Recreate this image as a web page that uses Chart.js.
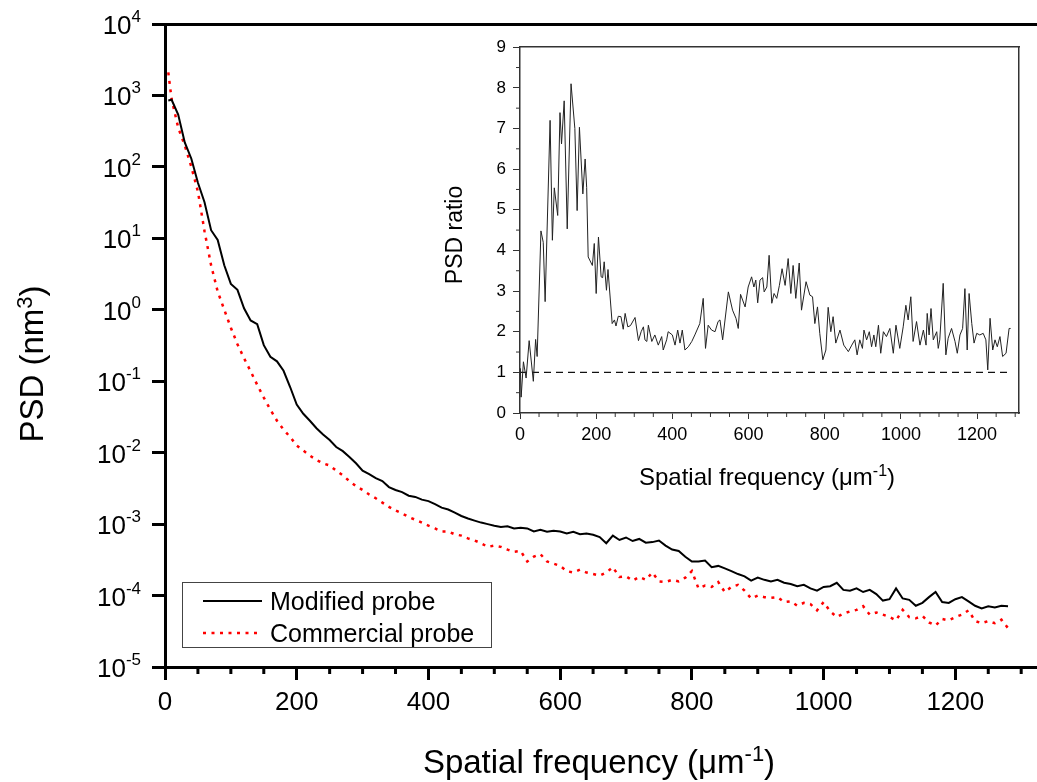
<!DOCTYPE html>
<html>
<head>
<meta charset="utf-8">
<script src="https://cdn.jsdelivr.net/npm/chart.js@4.4.0/dist/chart.umd.min.js"></script>
<style>
    html, body { margin: 0; padding: 0; background: #fff; overflow: hidden; }
    #wrap { position: relative; width: 1037px; height: 782px; }
    #main { position: absolute; left: 0; top: 0; }
    #inset { position: absolute; left: 430px; top: 30px; }
</style>
</head>
<body>
<div id="wrap">
    <canvas id="main" width="1037" height="782"></canvas>
    <canvas id="inset" width="600" height="475"></canvas>
</div>
<script>
// spatial frequency (um^-1) for the two PSD curves
var freq = [5,
    10, 20, 30, 40, 50, 60, 70, 80, 90,
    100, 110, 120, 130, 140, 150, 160, 170, 180, 190,
    200, 210, 220, 230, 240, 250, 260, 270, 280, 290,
    300, 310, 320, 330, 340, 350, 360, 370, 380, 390,
    400, 410, 420, 430, 440, 450, 460, 470, 480, 490,
    500, 510, 520, 530, 540, 550, 560, 570, 580, 590,
    600, 610, 620, 630, 640, 650, 660, 670, 680, 690,
    700, 710, 720, 730, 740, 750, 760, 770, 780, 790,
    800, 810, 820, 830, 840, 850, 860, 870, 880, 890,
    900, 910, 920, 930, 940, 950, 960, 970, 980, 990,
    1000, 1010, 1020, 1030, 1040, 1050, 1060, 1070, 1080, 1090,
    1100, 1110, 1120, 1130, 1140, 1150, 1160, 1170, 1180, 1190,
    1200, 1210, 1220, 1230, 1240, 1250, 1260, 1270, 1280];

// PSD (nm^3), modified probe
var modified = [850,
    870, 540, 220, 130, 60, 32, 13, 9.5, 4.2,
    2.3, 1.9, 1.05, 0.71, 0.63, 0.32, 0.22, 0.19, 0.14, 0.083,
    0.047, 0.035, 0.028, 0.022, 0.018, 0.015, 0.012, 0.0105, 0.0087, 0.0071,
    0.0056, 0.0050, 0.0044, 0.0040, 0.0033, 0.0030, 0.0028, 0.0025, 0.0024, 0.0022,
    0.0021, 0.0019, 0.0017, 0.0016, 0.00145, 0.0013, 0.0012, 0.00112, 0.00105, 0.0010,
    9.5e-4, 9.1e-4, 9.3e-4, 8.7e-4, 8.9e-4, 8.7e-4, 7.9e-4, 8.3e-4, 7.8e-4, 8.1e-4,
    7.9e-4, 7.4e-4, 7.8e-4, 7.2e-4, 7.4e-4, 7.1e-4, 6.6e-4, 5.4e-4, 6.9e-4, 6.0e-4,
    6.5e-4, 5.8e-4, 6.2e-4, 5.5e-4, 5.6e-4, 5.9e-4, 5.0e-4, 4.4e-4, 4.2e-4, 3.5e-4,
    3.0e-4, 3.0e-4, 3.1e-4, 2.5e-4, 2.6e-4, 2.4e-4, 2.2e-4, 2.0e-4, 1.86e-4, 1.62e-4,
    1.78e-4, 1.66e-4, 1.58e-4, 1.66e-4, 1.51e-4, 1.45e-4, 1.35e-4, 1.41e-4, 1.26e-4, 1.17e-4,
    1.32e-4, 1.35e-4, 1.51e-4, 1.20e-4, 1.17e-4, 1.26e-4, 1.12e-4, 1.20e-4, 1.05e-4, 8.5e-5,
    8.9e-5, 1.26e-4, 9.1e-5, 8.7e-5, 7.2e-5, 7.9e-5, 9.5e-5, 1.12e-4, 8.1e-5, 7.9e-5,
    8.9e-5, 9.5e-5, 8.3e-5, 7.2e-5, 6.6e-5, 7.1e-5, 6.8e-5, 7.2e-5, 7.1e-5];

// PSD (nm^3), commercial probe
var commercial = [2100,
    890, 355, 200, 100, 45, 12.6, 4.2, 1.8, 1.0,
    0.56, 0.33, 0.21, 0.138, 0.089, 0.059, 0.040, 0.028, 0.021, 0.0166,
    0.0126, 0.0107, 0.0091, 0.0079, 0.0071, 0.0066, 0.0056, 0.0048, 0.0040, 0.0034,
    0.0030, 0.0026, 0.0023, 0.0020, 0.00174, 0.00155, 0.00141, 0.00126, 0.00115, 0.00105,
    9.5e-4, 8.7e-4, 7.9e-4, 7.9e-4, 7.2e-4, 6.9e-4, 6.3e-4, 5.9e-4, 5.4e-4, 4.8e-4,
    5.0e-4, 4.8e-4, 4.4e-4, 4.1e-4, 4.2e-4, 3.0e-4, 3.5e-4, 3.8e-4, 3.0e-4, 2.8e-4,
    2.6e-4, 2.2e-4, 2.1e-4, 2.3e-4, 2.1e-4, 2.0e-4, 1.9e-4, 2.1e-4, 2.5e-4, 1.82e-4,
    1.86e-4, 1.62e-4, 1.82e-4, 1.66e-4, 2.1e-4, 1.58e-4, 1.55e-4, 1.66e-4, 1.58e-4, 1.78e-4,
    2.2e-4, 1.26e-4, 1.38e-4, 1.32e-4, 1.55e-4, 1.12e-4, 1.32e-4, 1.41e-4, 1.17e-4, 9.1e-5,
    1.0e-4, 9.5e-5, 9.3e-5, 9.5e-5, 8.1e-5, 8.3e-5, 7.2e-5, 7.9e-5, 7.6e-5, 6.2e-5,
    8.1e-5, 6.0e-5, 5.0e-5, 5.6e-5, 6.0e-5, 6.3e-5, 7.1e-5, 5.4e-5, 5.8e-5, 5.4e-5,
    5.0e-5, 4.5e-5, 6.3e-5, 5.0e-5, 4.8e-5, 5.2e-5, 4.2e-5, 3.8e-5, 4.7e-5, 4.5e-5,
    5.0e-5, 5.4e-5, 6.2e-5, 4.4e-5, 4.1e-5, 4.4e-5, 4.1e-5, 4.6e-5, 3.5e-5];

// inset: PSD ratio
var ratioFreq = [1, 3, 9, 16, 24, 35, 41, 45, 55, 61,
    66, 79, 85, 90, 99, 105, 109, 116, 124, 134,
    144, 150, 156, 165, 171, 175, 179, 190, 195, 200,
    206, 213, 217, 221, 227, 231, 242, 248, 252, 258,
    265, 271, 276, 283, 290, 302, 311, 318, 324, 328,
    333, 337, 346, 354, 363, 372, 376, 385, 389, 400,
    407, 414, 420, 426, 433, 442, 451, 459, 472, 481,
    487, 494, 503, 512, 520, 525, 532, 547, 558, 567,
    573, 579, 591, 599, 608, 614, 619, 624, 630, 637,
    641, 648, 654, 661, 667, 674, 681, 688, 696, 704,
    711, 717, 724, 733, 739, 751, 761, 768, 774, 781,
    787, 795, 803, 809, 816, 822, 829, 840, 850, 862,
    871, 879, 885, 892, 899, 903, 910, 917, 923, 929,
    934, 941, 947, 954, 962, 971, 980, 987, 997, 1006,
    1013, 1019, 1026, 1032, 1041, 1050, 1059, 1066, 1069, 1074,
    1079, 1085, 1094, 1098, 1102, 1111, 1118, 1124, 1133, 1142,
    1148, 1155, 1162, 1168, 1174, 1179, 1186, 1192, 1199, 1207,
    1216, 1223, 1228, 1234, 1241, 1247, 1253, 1260, 1267, 1276,
    1284, 1288];
var ratioValue = [1.1, 0.39, 1.26, 0.86, 1.78, 0.78, 1.81, 1.39, 4.48, 4.2,
    2.74, 7.2, 4.25, 5.54, 4.86, 7.39, 6.62, 7.68, 4.53, 8.1,
    7.0, 4.98, 7.03, 5.39, 6.25, 5.55, 3.84, 3.63, 4.17, 2.94,
    4.33, 3.35, 3.33, 3.72, 3.02, 3.53, 2.2, 2.29, 2.14, 2.38,
    2.37, 2.06, 2.45, 2.12, 2.15, 2.35, 1.78, 2.0, 2.12, 1.8,
    1.76, 2.16, 1.76, 1.92, 1.67, 1.88, 1.55, 1.8, 2.0, 1.92,
    1.67, 2.04, 1.72, 2.04, 1.55, 1.63, 1.76, 1.92, 2.2, 2.82,
    1.59, 2.16, 2.04, 2.0, 2.25, 2.29, 1.8, 2.98, 2.53, 2.33,
    2.08, 2.92, 2.61, 3.1, 3.35, 3.1, 3.27, 2.71, 3.27, 3.33,
    2.98, 3.1, 3.88, 2.7, 2.94, 2.82, 3.14, 3.55, 3.14, 3.8,
    2.94, 3.63, 2.82, 3.69, 2.53, 3.23, 2.9, 2.86, 2.2, 2.61,
    1.96, 1.31, 1.55, 2.6, 2.0, 2.37, 1.72, 2.04, 1.67, 1.51,
    1.67, 1.8, 1.43, 1.8, 1.59, 2.04, 1.8, 2.0, 1.63, 1.92,
    1.63, 2.16, 1.47, 2.0, 1.88, 2.08, 1.47, 2.16, 1.59, 2.12,
    2.65, 2.29, 2.86, 1.76, 2.25, 1.67, 2.04, 1.67, 2.45, 1.92,
    2.57, 1.8, 2.0, 1.59, 1.8, 3.19, 1.43, 1.84, 2.08, 1.76,
    1.47, 1.92, 2.08, 3.06, 1.55, 2.94, 2.2, 1.72, 1.96, 1.92,
    1.96, 1.8, 1.06, 2.33, 1.55, 1.8, 1.63, 1.88, 1.39, 1.47,
    2.08, 2.08];

// dashed reference line at ratio = 1
var unityFreq = [0, 1290];
var unityValue = [1, 1];

var yDecades = [1e-5, 1e-4, 1e-3, 1e-2, 1e-1, 1, 1e1, 1e2, 1e3, 1e4];

var FONT = '"Liberation Sans", Arial, Helvetica, sans-serif';

function toPoints(xs, ys) {
    return xs.map(function(x, i) { return { x: x, y: ys[i] }; });
}

function plainLabel(v) { return String(v); }

// text with a superscript part
function drawParts(ctx, parts, cx, baseY) {
    var total = 0;
    parts.forEach(function(p) {
        ctx.font = p.size + 'px ' + FONT;
        p.w = ctx.measureText(p.t).width;
        total += p.w;
    });
    var x = cx - total / 2;
    ctx.textAlign = 'left';
    ctx.textBaseline = 'alphabetic';
    parts.forEach(function(p) {
        ctx.font = p.size + 'px ' + FONT;
        ctx.fillText(p.t, x, baseY - (p.rise || 0));
        x += p.w;
    });
}

// short minor tick marks between the major ones
function minorTicks(ctx, scale, step, major, len, width, color) {
    ctx.save();
    ctx.setLineDash([]);
    ctx.strokeStyle = color;
    ctx.lineWidth = width;
    ctx.beginPath();
    var n = Math.round((scale.max - scale.min) / step);
    for (var k = 0; k <= n; k++) {
        var v = scale.min + k * step;
        if (v > scale.max) break;
        var r = v / major;
        if (Math.abs(r - Math.round(r)) < 1e-6) continue;
        var p = scale.getPixelForValue(v);
        if (scale.isHorizontal()) {
            ctx.moveTo(p, scale.top);
            ctx.lineTo(p, scale.top + len);
        } else {
            ctx.moveTo(scale.right - len, p);
            ctx.lineTo(scale.right, p);
        }
    }
    ctx.stroke();
    ctx.restore();
}

var mainDeco = {
    id: 'mainDeco',
    afterDraw: function(chart) {
        var ctx = chart.ctx;
        var ys = chart.scales.y;
        ctx.save();
        ctx.fillStyle = '#000';

        // y tick labels 10^n
        ys.ticks.forEach(function(t) {
            var y = ys.getPixelForValue(t.value);
            var e = String(Math.round(Math.log10(t.value)));
            var R = 141;
            ctx.font = '17px ' + FONT;
            ctx.textAlign = 'left';
            ctx.textBaseline = 'alphabetic';
            var ew = ctx.measureText(e).width;
            ctx.fillText(e, R - ew, y - 2);
            ctx.font = '26px ' + FONT;
            ctx.textAlign = 'right';
            ctx.fillText('10', R - ew, y + 10);
        });

        minorTicks(ctx, chart.scales.x, 50, 200, 7, 3, '#000');

        // axis titles
        drawParts(ctx, [
            { t: 'Spatial frequency (\u03bcm', size: 33 },
            { t: '-1', size: 22, rise: 12 },
            { t: ')', size: 33 }
        ], 599, 773);
        ctx.save();
        ctx.translate(43, 364);
        ctx.rotate(-Math.PI / 2);
        drawParts(ctx, [
            { t: 'PSD (nm', size: 33 },
            { t: '3', size: 22, rise: 11 },
            { t: ')', size: 33 }
        ], 0, 0);
        ctx.restore();

        // legend box
        ctx.strokeStyle = '#444';
        ctx.lineWidth = 1;
        ctx.strokeRect(182.5, 582.5, 309, 65);
        chart.data.datasets.forEach(function(ds, i) {
            var ly = 601 + i * 32;
            ctx.save();
            ctx.strokeStyle = ds.borderColor;
            ctx.lineWidth = ds.borderWidth;
            ctx.setLineDash(ds.borderDash || []);
            ctx.beginPath();
            ctx.moveTo(203, ly);
            ctx.lineTo(262, ly);
            ctx.stroke();
            ctx.restore();
            ctx.font = '25px ' + FONT;
            ctx.textAlign = 'left';
            ctx.textBaseline = 'alphabetic';
            ctx.fillStyle = '#000';
            ctx.fillText(ds.label, 270, ly + 9);
        });
        ctx.restore();
    }
};

var mainChart = new Chart(document.getElementById('main'), {
    type: 'line',
    data: {
        datasets: [{
            label: 'Modified probe',
            data: toPoints(freq, modified),
            borderColor: '#000000',
            borderWidth: 2,
            pointRadius: 0,
            tension: 0
        }, {
            label: 'Commercial probe',
            data: toPoints(freq, commercial),
            borderColor: '#ff0000',
            borderWidth: 2.5,
            borderDash: [3, 5.5],
            pointRadius: 0,
            tension: 0
        }]
    },
    options: {
        responsive: false,
        animation: false,
        layout: { padding: 0 },
        plugins: { legend: { display: false }, tooltip: { enabled: false } },
        scales: {
            x: {
                type: 'linear', position: 'bottom', min: 0, max: 1324,
                ticks: { stepSize: 200, includeBounds: false, autoSkip: false, maxRotation: 0,
                    callback: plainLabel,
                    color: '#000', padding: 7, font: { family: FONT, size: 26 } },
                grid: { drawOnChartArea: false, tickLength: 13, tickWidth: 3, tickColor: '#000' },
                border: { width: 3, color: '#000' },
                afterFit: function(s) { s.height = 115; }
            },
            xTop: {
                type: 'linear', position: 'top', min: 0, max: 1324,
                ticks: { display: false },
                grid: { drawOnChartArea: false, drawTicks: false },
                border: { width: 3, color: '#000' },
                afterFit: function(s) { s.height = 24; }
            },
            y: {
                type: 'logarithmic', position: 'left', min: 1e-5, max: 1e4,
                afterBuildTicks: function(s) {
                    s.ticks = yDecades.map(function(v) { return { value: v }; });
                },
                ticks: { display: false },
                grid: { drawOnChartArea: false, tickLength: 13, tickWidth: 3, tickColor: '#000' },
                border: { width: 3, color: '#000' },
                afterFit: function(s) { s.width = 165; }
            }
        }
    },
    plugins: [mainDeco]
});

var insetDeco = {
    id: 'insetDeco',
    afterDraw: function(chart) {
        var ctx = chart.ctx;
        ctx.save();
        ctx.fillStyle = '#000';
        minorTicks(ctx, chart.scales.x, 50, 200, 4, 1, '#333');
        minorTicks(ctx, chart.scales.y, 0.5, 1, 4, 1, '#333');
        drawParts(ctx, [
            { t: 'Spatial frequency (\u03bcm', size: 24 },
            { t: '-1', size: 16, rise: 9 },
            { t: ')', size: 24 }
        ], 337, 455);
        ctx.translate(32, 205);
        ctx.rotate(-Math.PI / 2);
        drawParts(ctx, [{ t: 'PSD ratio', size: 23 }], 0, 0);
        ctx.restore();
    }
};

var insetChart = new Chart(document.getElementById('inset'), {
    type: 'line',
    data: {
        datasets: [{
            label: 'PSD ratio',
            data: toPoints(ratioFreq, ratioValue),
            borderColor: '#222',
            borderWidth: 1,
            pointRadius: 0,
            tension: 0
        }, {
            label: 'ratio = 1',
            data: toPoints(unityFreq, unityValue),
            borderColor: '#111',
            borderWidth: 1.3,
            borderDash: [7, 5],
            pointRadius: 0
        }]
    },
    options: {
        responsive: false,
        animation: false,
        layout: { padding: 0 },
        plugins: { legend: { display: false }, tooltip: { enabled: false } },
        scales: {
            x: {
                type: 'linear', position: 'bottom', min: 0, max: 1310,
                ticks: { stepSize: 200, includeBounds: false, autoSkip: false, maxRotation: 0,
                    callback: plainLabel,
                    color: '#000', padding: 5, font: { family: FONT, size: 18 } },
                grid: { drawOnChartArea: false, tickLength: 6, tickWidth: 1, tickColor: '#333' },
                border: { width: 1.5, color: '#333' },
                afterFit: function(s) { s.height = 92; }
            },
            xTop: {
                type: 'linear', position: 'top', min: 0, max: 1310,
                ticks: { display: false },
                grid: { drawOnChartArea: false, drawTicks: false },
                border: { width: 1.5, color: '#333' },
                afterFit: function(s) { s.height = 16; }
            },
            y: {
                type: 'linear', position: 'left', min: 0, max: 9,
                ticks: { stepSize: 1, callback: plainLabel,
                    color: '#000', padding: 7, font: { family: FONT, size: 17 } },
                grid: { drawOnChartArea: false, tickLength: 7, tickWidth: 1, tickColor: '#333' },
                border: { width: 1.5, color: '#333' },
                afterFit: function(s) { s.width = 90; }
            },
            yRight: {
                type: 'linear', position: 'right', min: 0, max: 9,
                ticks: { display: false },
                grid: { drawOnChartArea: false, drawTicks: false },
                border: { width: 1.5, color: '#333' },
                afterFit: function(s) { s.width = 11; }
            }
        }
    },
    plugins: [insetDeco]
});
</script>
</body>
</html>
